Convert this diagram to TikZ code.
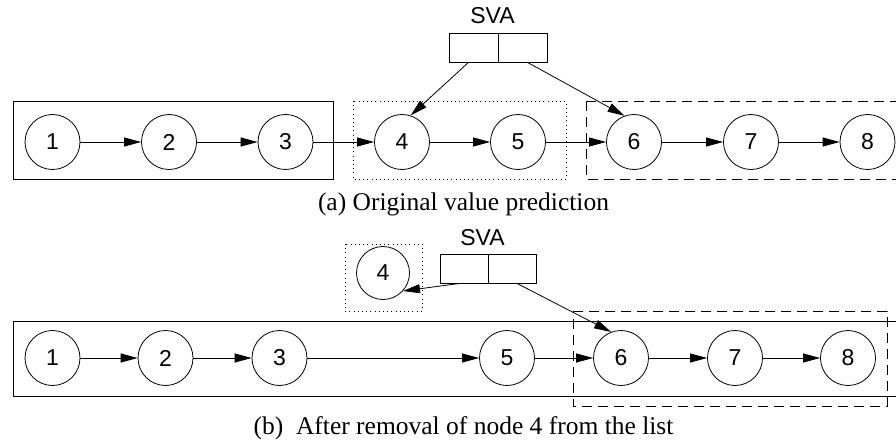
\documentclass[tikz,border=0pt]{standalone}
\usepackage{fontspec}
\setmainfont{Liberation Serif}
\setsansfont{Liberation Sans}
\usetikzlibrary{arrows.meta,calc}
\begin{document}
\begin{tikzpicture}[x=1pt,y=-1pt,line width=0.8pt,
  lnode/.style={circle,draw,minimum size=55pt,inner sep=0pt,font=\sffamily\fontsize{23}{23}\selectfont},
  cell/.style={rectangle,draw,minimum width=49pt,minimum height=29pt,inner sep=0pt},
  lbl/.style={font=\sffamily\fontsize{23}{23}\selectfont},
  captext/.style={font=\fontsize{25.5}{25.5}\selectfont},
  link/.style={-{Triangle[length=17pt,width=9pt]}},
  dotbox/.style={draw,dash pattern=on 1pt off 3.2pt},
  dashbox/.style={draw,dash pattern=on 10pt off 6pt}]
\useasboundingbox (0,0) rectangle (896,446);
% ---------- (a) ----------
\draw (13,101) rectangle (333,179);
\draw[dotbox] (353,101) rectangle (566,179);
\draw[dashbox] (586,101) -- (896,101) (586,101) -- (586,179) -- (896,179);
\foreach \i/\x in {1/52.5,2/169,3/285.5,4/402,5/518,6/634,7/751,8/867.5}
  \node[lnode] (a\i) at (\x,142) {\i};
\foreach \i/\j in {1/2,2/3,3/4,4/5,5/6,6/7,7/8}
  \draw[link] (a\i) -- (a\j);
\node[cell] (asl) at (473.5,47.5) {};
\node[cell] (asr) at (522.5,47.5) {};
\node[lbl] (asva) at (492.5,16) {SVA};
\draw[link] ($(asl.south)+(-5,0)$) -- (a4.72);
\draw[link] ($(asr.south)+(5,0)$) -- (a6.110);
\node[captext] (capa) at (463.5,204) {(a) Original value prediction};
% ---------- (b) ----------
\draw (13,321) -- (896,321) (13,321) -- (13,396) -- (896,396);
\draw[dashbox] (573,311) -- (887,311) -- (887,406) -- (573,406) -- cycle;
\draw[dotbox] (345,244) rectangle (422,311);
\foreach \i/\x in {1/52.5,2/165.5,3/279.5,5/507,6/621,7/735,8/848}
  \node[lnode] (b\i) at (\x,358) {\i};
\node[lnode,minimum size=53pt] (b4) at (383,273) {4};
\foreach \i/\j in {1/2,2/3,3/5,5/6,6/7,7/8}
  \draw[link] (b\i) -- (b\j);
\node[cell,minimum width=48pt] (bsl) at (464,268.5) {};
\node[cell,minimum width=48pt] (bsr) at (512,268.5) {};
\node[lbl] (bsva) at (482.5,237.5) {SVA};
\draw[link] ($(bsl.south)+(-4,0)$) -- (b4.-42);
\draw[link] ($(bsr.south)+(5,0)$) -- (b6.111);
\node[captext] (capb) at (463.5,428) {(b)\ \ After removal of node 4 from the list};
\end{tikzpicture}
\end{document}
